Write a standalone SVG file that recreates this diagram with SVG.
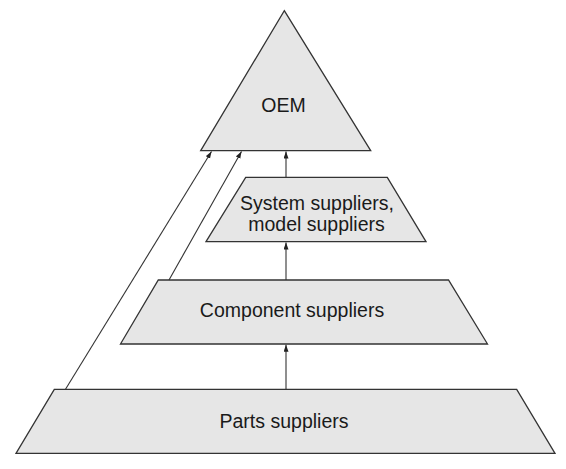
<svg xmlns="http://www.w3.org/2000/svg" width="566" height="469" viewBox="0 0 566 469">
<defs>
<style>
.shape{fill:#e6e6e6;stroke:#333;stroke-width:1.3;stroke-linejoin:miter}
.lbl{font-family:"Liberation Sans",Arial,sans-serif;font-size:19.5px;fill:#1a1a1a;text-anchor:middle}
.conn{stroke:#333;stroke-width:1.1;fill:none;marker-end:url(#ah)}
</style>
<marker id="ah" markerUnits="userSpaceOnUse" markerWidth="8" markerHeight="6" refX="7" refY="2.5" orient="auto">
<path d="M0,0 L7,2.5 L0,5 z" fill="#222"/>
</marker>
</defs>
<rect width="566" height="469" fill="#fff"/>
<g id="oem">
<polygon class="shape" points="284.3,10.7 370.7,150.7 200.7,150.7"/>
<text class="lbl" x="283.5" y="111.7">OEM</text>
</g>
<g id="system-suppliers">
<polygon class="shape" points="245.7,177.3 387.3,177.3 426,241.7 206,241.7"/>
<text class="lbl" x="317" y="210">System suppliers,</text>
<text class="lbl" x="316.5" y="230.7">model suppliers</text>
</g>
<g id="component-suppliers">
<polygon class="shape" points="158.3,280 448.5,280 487.5,344 120.5,344"/>
<text class="lbl" x="292" y="316.7">Component suppliers</text>
</g>
<g id="parts-suppliers">
<polygon class="shape" points="54.3,389.3 516.7,389.3 555,453.3 16,453.3"/>
<text class="lbl" x="284" y="428">Parts suppliers</text>
</g>
<g id="connectors">
<line class="conn" x1="286" y1="177.3" x2="286" y2="151.5"/>
<line class="conn" x1="286" y1="280" x2="286" y2="242.5"/>
<line class="conn" x1="286" y1="389.3" x2="286" y2="344.8"/>
<line class="conn" x1="65.5" y1="389.3" x2="211.5" y2="151.5"/>
<line class="conn" x1="169" y1="280" x2="241.5" y2="151.5"/>
</g>
</svg>
